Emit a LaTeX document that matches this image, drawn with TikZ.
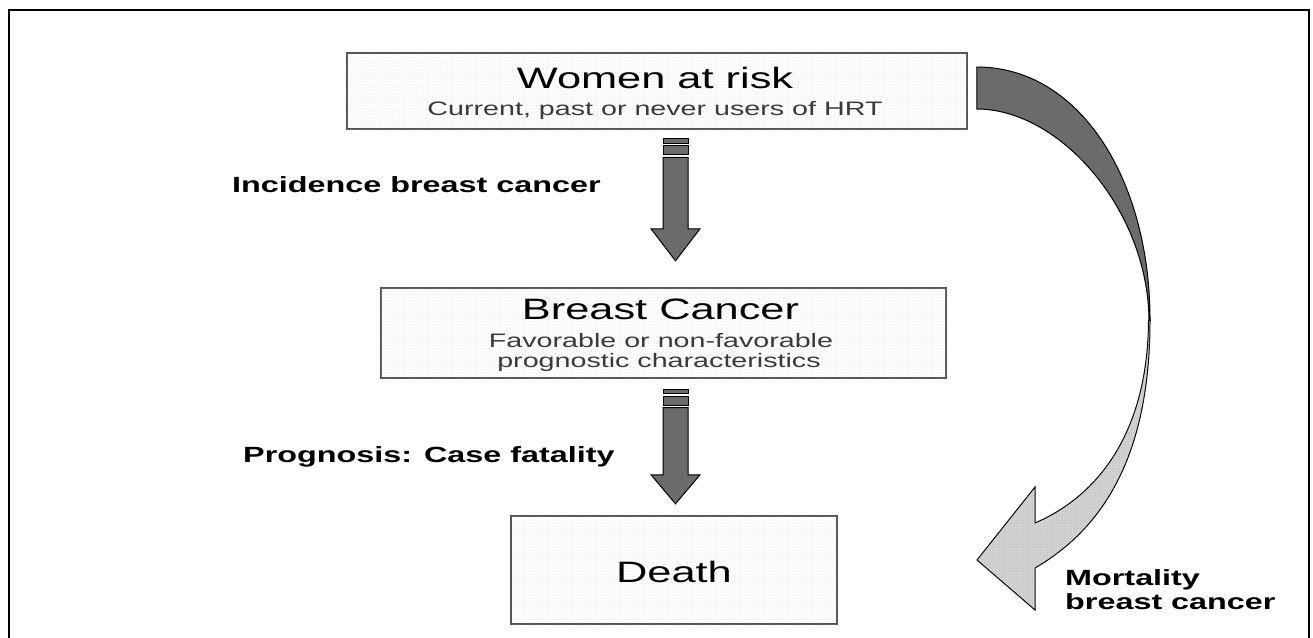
\documentclass[tikz,border=0pt]{standalone}
\usepackage{fontspec}
\setmainfont{Liberation Sans}
\usepackage{graphicx}
\usetikzlibrary{patterns,calc}
\definecolor{arrowgray}{HTML}{6B6B6B}
\definecolor{boxline}{HTML}{555555}
\definecolor{lightfill}{HTML}{D2D2D2}
\definecolor{subgray}{HTML}{3A3A3A}
\newcommand{\wide}[1]{\scalebox{1.47}[1]{#1}}
\newcommand{\titlesize}{\fontsize{29.5}{35}\selectfont}
\newcommand{\subsize}{\fontsize{19.5}{23}\selectfont}
\newcommand{\labsize}{\fontsize{22}{26}\selectfont\bfseries}
\tikzset{
  box/.style={rectangle, draw=boxline, line width=1.6pt, fill=white,
    postaction={pattern=dots, pattern color=black!20}, inner sep=0pt},
  txt/.style={inner sep=0pt, anchor=base},
  lab/.style={inner sep=0pt, anchor=base west, font=\labsize},
  arrowbody/.style={fill=arrowgray, draw=black, line width=1pt, line join=miter},
  backside/.style={fill=arrowgray, draw=black, line width=1pt},
  frontside/.style={fill=lightfill, draw=black, line width=1pt,
    postaction={pattern=dots, pattern color=black!35}},
}
% #1 top coordinate, #2 head base offset, #3 tip offset
\newcommand{\blockarrow}[3]{%
  \begin{scope}[shift={(#1)}]
    \filldraw[arrowbody] (-12.5,0) rectangle (12.5,4.5);
    \filldraw[arrowbody] (-12.5,7) rectangle (12.5,16);
    \filldraw[arrowbody] (-12.5,18.5) -- (12.5,18.5) -- (12.5,#2) -- (24.5,#2)
      -- (0,#3) -- (-24.5,#2) -- (-12.5,#2) -- cycle;
  \end{scope}}
\begin{document}
\begin{tikzpicture}[x=1pt,y=-1pt]
\useasboundingbox (0,0) rectangle (1313,637);
\clip (0,0) rectangle (1313,637);
\draw[line width=2pt] (9,650) -- (9,10) -- (1309,10) -- (1309,650);

% boxes
\node[box, minimum width=620pt, minimum height=76pt] (women) at (657,91) {};
\node[box, minimum width=565pt, minimum height=90pt] (bc) at (663.5,333) {};
\node[box, minimum width=326pt, minimum height=108pt] (death) at (674,570) {};

% box texts
\node[txt, font=\titlesize] (womenT) at (655,88) {\wide{Women at risk}};
\node[txt, font=\subsize, text=subgray] (womenS) at (655,115) {\wide{Current, past or never users of HRT}};
\node[txt, font=\titlesize] (bcT) at (660.5,319.5) {\wide{Breast Cancer}};
\node[txt, font=\subsize, text=subgray] (bcS1) at (661,347) {\wide{Favorable or non-favorable}};
\node[txt, font=\subsize, text=subgray] (bcS2) at (659,367.5) {\wide{prognostic characteristics}};
\node[txt, font=\titlesize] (deathT) at (674,582) {\wide{Death}};

% straight block arrows
\coordinate (a1) at ($(women.south)+(18.5,9)$);
\coordinate (a2) at ($(bc.south)+(12,10.3)$);
\blockarrow{a1}{90}{122}
\blockarrow{a2}{85.7}{114.7}

% curved arrow
\coordinate (c0) at ($(women.east)+(9,-24)$);
\coordinate (c1) at ($(women.east)+(9,18)$);
\filldraw[backside] (c0) .. controls (1080,67) and (1150,180) .. (1150,320)
  -- (1149,320) .. controls (1148,210) and (1060,109) .. (c1) -- cycle;
\filldraw[frontside] (1150,320) .. controls (1150,460) and (1100,530) .. (1035,568)
  -- (1035,610) -- (977,560) -- (1035,487) -- (1035,523)
  .. controls (1100,495) and (1148,430) .. (1148.5,320) -- cycle;

% labels
\node[lab] (inc) at (232,192) {\wide{Incidence breast cancer}};
\node[lab] (prog) at (243,462.7) {\wide{Prognosis: Case fatality}};
\node[lab] (mort1) at (1065,585) {\wide{Mortality}};
\node[lab] (mort2) at (1065,609) {\wide{breast cancer}};
\end{tikzpicture}
\end{document}
